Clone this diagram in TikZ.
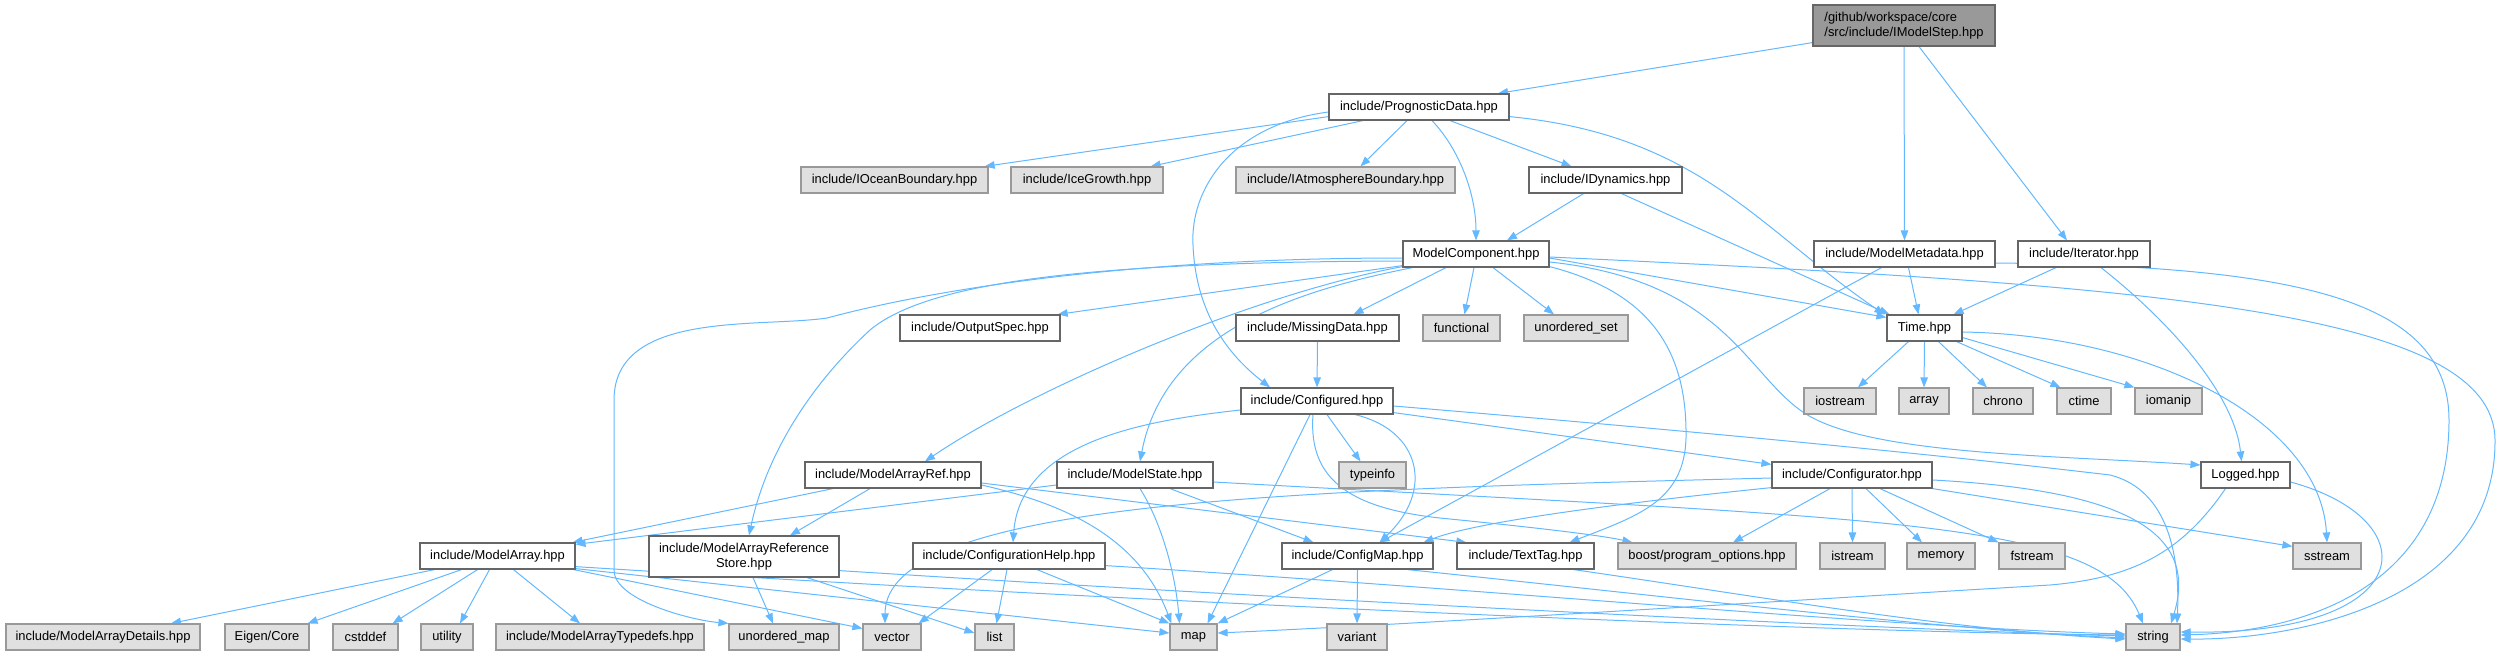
\documentclass[tikz,border=0pt]{standalone}
\usepackage{fontspec}
\setmainfont{Liberation Sans}
\usetikzlibrary{arrows.meta}
\definecolor{eb}{HTML}{63B8FF}
\definecolor{cdark}{HTML}{666666}
\definecolor{cgrey}{HTML}{999999}
\definecolor{cext}{HTML}{E0E0E0}
\pgfdeclarelayer{bg}
\pgfsetlayers{bg,main}
\tikzset{
  box/.style={draw=cdark, line width=1.2pt, fill=white, inner sep=0pt, text=black,
    font=\fontsize{12.9}{14.5}\selectfont, minimum height=26pt},
  ext/.style={box, draw=cgrey, fill=cext},
  rootbox/.style={box, draw=cdark, fill=cgrey, align=left},
  e/.style={draw=eb, line width=1pt, -{Triangle[length=10pt,width=7.5pt]}}
}
\begin{document}
\begin{tikzpicture}[x=1pt,y=-1pt]
\useasboundingbox (0,0) rectangle (2506,656);
% nodes
\node[rootbox, minimum width=182pt, minimum height=41pt] (root) at (1904,25.5) {/github/workspace/core\\/src/include/IModelStep.hpp};
\node[box, minimum width=180pt] (PD) at (1419,107) {include/PrognosticData.hpp};
\node[ext, minimum width=187pt] (IOB) at (894.5,180) {include/IOceanBoundary.hpp};
\node[ext, minimum width=152pt] (IG) at (1087,180) {include/IceGrowth.hpp};
\node[ext, minimum width=219pt] (IAB) at (1345.5,180) {include/IAtmosphereBoundary.hpp};
\node[box, minimum width=153pt] (IDyn) at (1605.5,180) {include/IDynamics.hpp};
\node[box, minimum width=146pt] (MC) at (1476,254) {ModelComponent.hpp};
\node[box, minimum width=181pt] (MM) at (1904.5,254) {include/ModelMetadata.hpp};
\node[box, minimum width=132pt] (It) at (2084,254) {include/Iterator.hpp};
\node[box, minimum width=160pt] (OS) at (980,328) {include/OutputSpec.hpp};
\node[box, minimum width=163pt] (MD) at (1317.5,328) {include/MissingData.hpp};
\node[ext, minimum width=77pt] (func) at (1461.5,328) {functional};
\node[ext, minimum width=104pt] (uset) at (1576,328) {unordered\_set};
\node[box, minimum width=75pt] (Time) at (1924.5,328) {Time.hpp};
\node[ext, minimum width=72pt] (iostream) at (1840,401) {iostream};
\node[ext, minimum width=50pt] (array) at (1924,401) {array};
\node[ext, minimum width=60pt] (chrono) at (2003,401) {chrono};
\node[ext, minimum width=54pt] (ctime) at (2084,401) {ctime};
\node[ext, minimum width=67pt] (iomanip) at (2168.5,401) {iomanip};
\node[box, minimum width=152pt] (Cfgd) at (1317,401) {include/Configured.hpp};
\node[ext, minimum width=67pt] (typeinfo) at (1372.5,475) {typeinfo};
\node[box, minimum width=176pt] (MAR) at (893,475) {include/ModelArrayRef.hpp};
\node[box, minimum width=156pt] (MS) at (1135,475) {include/ModelState.hpp};
\node[box, minimum width=160pt] (Cfgr) at (1852,475) {include/Configurator.hpp};
\node[box, minimum width=89pt] (Logged) at (2245.5,475) {Logged.hpp};
\node[box, minimum width=155pt] (MA) at (497.5,556) {include/ModelArray.hpp};
\node[box, minimum width=190pt, minimum height=41pt, align=center] (MARS) at (744,556.5) {include/ModelArrayReference\\Store.hpp};
\node[box, minimum width=192pt] (CH) at (1009,556) {include/ConfigurationHelp.hpp};
\node[box, minimum width=151pt] (CM) at (1357.5,556) {include/ConfigMap.hpp};
\node[box, minimum width=137pt] (TT) at (1525.5,556) {include/TextTag.hpp};
\node[ext, minimum width=178pt] (boost) at (1707,556) {boost/program\_options.hpp};
\node[ext, minimum width=65pt] (istream) at (1852.5,556) {istream};
\node[ext, minimum width=68pt] (memory) at (1941,556) {memory};
\node[ext, minimum width=66pt] (fstream) at (2032,556) {fstream};
\node[ext, minimum width=68pt] (sstream) at (2327,556) {sstream};
\node[ext, minimum width=194pt] (MAD) at (103,637) {include/ModelArrayDetails.hpp};
\node[ext, minimum width=84pt] (Eigen) at (267,637) {Eigen/Core};
\node[ext, minimum width=65pt] (cstddef) at (365.5,637) {cstddef};
\node[ext, minimum width=52pt] (utility) at (447,637) {utility};
\node[ext, minimum width=208pt] (MAT) at (600,637) {include/ModelArrayTypedefs.hpp};
\node[ext, minimum width=110pt] (umap) at (784,637) {unordered\_map};
\node[ext, minimum width=58pt] (vector) at (892,637) {vector};
\node[ext, minimum width=39pt] (list) at (994.5,637) {list};
\node[ext, minimum width=47pt] (map) at (1193.5,637) {map};
\node[ext, minimum width=60pt] (variant) at (1357,637) {variant};
\node[ext, minimum width=54pt] (string) at (2153,637) {string};
% edges
\begin{pgfonlayer}{bg}
% root
\draw[e] ([yshift=4pt]root.south west) -- ([xshift=79pt]PD.north);
\draw[e] (root.south) -- (MM.north);
\draw[e] ([xshift=15pt]root.south) -- ([xshift=-17pt]It.north);
% PrognosticData
\draw[e] ([yshift=4pt]PD.south west) -- ([xshift=-4pt]IOB.north east);
\draw[e] ([xshift=-56pt]PD.south) -- ([xshift=-13pt]IG.north east);
\draw[e] ([xshift=-12pt]PD.south) -- ([xshift=15pt]IAB.north);
\draw[e] ([xshift=31pt]PD.south) -- ([xshift=-34pt]IDyn.north);
\draw[e] ([xshift=13pt]PD.south) .. controls (1460,150) and (1476,195) .. (MC.north);
\draw[e] ([yshift=4pt]PD.south east) .. controls (1700,135) and (1760,230) .. ([xshift=-2pt]Time.north west);
\draw[e] ([yshift=-5pt]PD.west) .. controls (1230,125) and (1190,190) .. (1193,245) .. controls (1196,320) and (1235,360) .. ([xshift=-47pt]Cfgd.north);
% IDynamics
\draw[e] ([xshift=-22pt]IDyn.south) -- ([xshift=31pt]MC.north);
\draw[e] ([xshift=16pt]IDyn.south) -- ([xshift=3pt]Time.north west);
% ModelComponent
\draw[e] ([yshift=2pt]MC.south west) -- ([xshift=-3pt]OS.north east);
\draw[e] ([xshift=-30pt]MC.south) -- ([xshift=36pt]MD.north);
\draw[e] ([xshift=-2pt]MC.south) -- ([xshift=3pt]func.north);
\draw[e] ([xshift=17pt]MC.south) -- ([xshift=-22pt]uset.north);
\draw[e] ([yshift=-4pt]MC.east) -- ([yshift=-3pt]Time.north west);
\draw[e] ([yshift=-3pt]MC.east) .. controls (2150,285) and (2494,310) .. (2495,440) .. controls (2496,600) and (2300,640) .. ([yshift=-2pt]string.east);
\draw[e] ([yshift=-8pt]MC.east) .. controls (1720,280) and (1745,370) .. (1800,410) .. controls (1860,455) and (2050,455) .. ([yshift=10pt]Logged.west);
\draw[e] ([yshift=1pt]MC.south east) .. controls (1640,290) and (1685,340) .. (1686,430) .. controls (1688,500) and (1640,515) .. ([xshift=44pt]TT.north);
\draw[e] ([yshift=-7pt]MC.west) .. controls (1100,262) and (930,280) .. (870,330) .. controls (805,390) and (765,460) .. ([xshift=5pt]MARS.north);
\draw[e] ([yshift=-4pt]MC.west) .. controls (1150,258) and (950,285) .. (827,318) .. controls (760,328) and (614,310) .. (614,400) -- (614,570) .. controls (614,600) and (690,620) .. (umap.north west);
\draw[e] ([yshift=1pt]MC.south west) .. controls (1250,295) and (1030,390) .. ([xshift=32pt]MAR.north);
\draw[e] ([xshift=10pt]MC.south west) .. controls (1300,290) and (1165,330) .. ([xshift=5pt]MS.north);
% ModelMetadata
\draw[e] ([xshift=4pt]MM.south) -- ([xshift=-6pt]Time.north);
\draw[e] ([xshift=-23pt]MM.south) -- ([xshift=22pt]CM.north);
\draw[e] ([yshift=-9pt]MM.east) .. controls (2300,266) and (2449,300) .. (2449,420) .. controls (2449,590) and (2300,632) .. ([yshift=2pt]string.east);
% Iterator
\draw[e] ([xshift=-28pt]It.south) -- ([xshift=-9pt]Time.north east);
\draw[e] ([xshift=17pt]It.south) .. controls (2180,330) and (2235,400) .. ([xshift=-4pt]Logged.north);
% Time
\draw[e] ([xshift=-16pt]Time.south) -- ([xshift=18pt]iostream.north);
\draw[e] (Time.south) -- (array.north);
\draw[e] ([xshift=14pt]Time.south) -- ([xshift=-16pt]chrono.north);
\draw[e] ([xshift=-6pt]Time.south east) -- ([xshift=4pt]ctime.north west);
\draw[e] ([yshift=4pt]Time.south east) -- (iomanip.north west);
\draw[e] ([yshift=-4pt]Time.east) .. controls (2150,335) and (2320,420) .. (sstream.north);
% MissingData
\draw[e] (MD.south) -- (Cfgd.north);
% Configured
\draw[e] ([xshift=10pt]Cfgd.south) -- ([xshift=-12pt]typeinfo.north);
\draw[e] ([xshift=38pt]Cfgd.south) .. controls (1420,430) and (1435,490) .. ([xshift=22pt]CM.north);
\draw[e] ([xshift=-4pt]Cfgd.south) .. controls (1308,480) and (1350,510) .. (1450,519) .. controls (1530,527) and (1600,535) .. ([xshift=15pt]boost.north west);
\draw[e] ([yshift=2pt]Cfgd.south east) -- ([yshift=-3pt]Cfgr.north west);
\draw[e] ([yshift=-5pt]Cfgd.east) .. controls (1800,440) and (2000,462) .. (2110,475) .. controls (2170,490) and (2180,560) .. ([xshift=24pt]string.north);
\draw[e] ([xshift=-7pt]Cfgd.south) -- ([xshift=14pt]map.north);
\draw[e] ([yshift=-9pt]Cfgd.west) .. controls (1150,420) and (1020,440) .. ([xshift=4pt]CH.north);
% ModelState
\draw[e] ([yshift=-10pt]MS.west) -- ([yshift=-2pt]MA.north east);
\draw[e] ([xshift=5pt]MS.south) .. controls (1160,520) and (1175,570) .. ([xshift=-14pt]map.north);
\draw[e] ([xshift=35pt]MS.south) -- ([xshift=-44pt]CM.north);
\draw[e] ([yshift=-7pt]MS.east) .. controls (1900,520) and (2100,520) .. ([xshift=-10pt]string.north);
% ModelArrayRef
\draw[e] ([xshift=-60pt]MAR.south) -- ([xshift=-3pt]MA.north east);
\draw[e] ([xshift=-23pt]MAR.south) -- ([xshift=46pt]MARS.north);
\draw[e] ([yshift=-10pt]MAR.east) .. controls (1070,505) and (1140,540) .. ([xshift=2pt]map.north west);
\draw[e] ([yshift=-8pt]MAR.east) -- ([xshift=10pt]TT.north west);
% ModelArrayReferenceStore
\draw[e] ([xshift=9pt]MARS.south) -- ([xshift=-11pt]umap.north);
\draw[e] ([xshift=63pt]MARS.south) -- ([yshift=4pt]list.west);
\draw[e] ([yshift=7pt]MARS.south east) .. controls (1300,600) and (1900,630) .. ([yshift=1pt]string.west);
% ModelArray
\draw[e] ([xshift=-63pt]MA.south) -- ([xshift=68pt]MAD.north);
\draw[e] ([xshift=-36pt]MA.south) -- ([xshift=-2pt]Eigen.north east);
\draw[e] ([xshift=-20pt]MA.south) -- ([xshift=-6pt]cstddef.north east);
\draw[e] ([xshift=-8pt]MA.south) -- ([xshift=13pt]utility.north);
\draw[e] ([xshift=16pt]MA.south) -- ([xshift=-20pt]MAT.north);
\draw[e] ([xshift=-2pt]MA.south east) -- ([yshift=-5pt]vector.north west);
\draw[e] ([yshift=1pt]MA.south east) -- ([yshift=4pt]map.west);
\draw[e] ([yshift=3pt]MA.south east) .. controls (1100,600) and (1800,632) .. ([yshift=2pt]string.west);
% ConfigurationHelp
\draw[e] ([xshift=-17pt]CH.south) -- ([xshift=-3pt]vector.north east);
\draw[e] ([xshift=-2pt]CH.south) -- ([xshift=2pt]list.north);
\draw[e] ([xshift=28pt]CH.south) -- (map.north west);
\draw[e] ([yshift=4pt]CH.south east) .. controls (1500,590) and (1900,628) .. ([yshift=3pt]string.west);
% ConfigMap
\draw[e] ([xshift=-25pt]CM.south) -- (map.north east);
\draw[e] (CM.south) -- (variant.north);
\draw[e] ([xshift=-26pt]CM.south east) .. controls (1700,600) and (1950,630) .. ([yshift=-1pt]string.west);
% TextTag
\draw[e] ([xshift=-21pt]TT.south east) .. controls (1750,595) and (1950,630) .. ([yshift=-2pt]string.west);
% Configurator
\draw[e] ([xshift=-22pt]Cfgr.south) -- ([xshift=26pt]boost.north);
\draw[e] (Cfgr.south) -- (istream.north);
\draw[e] ([xshift=14pt]Cfgr.south) -- ([xshift=-19pt]memory.north);
\draw[e] ([xshift=28pt]Cfgr.south) -- (fstream.north west);
\draw[e] (Cfgr.south east) -- ([yshift=-4pt]sstream.north west);
\draw[e] ([yshift=-5pt]Cfgr.east) .. controls (2120,490) and (2200,530) .. ([xshift=18pt]string.north);
\draw[e] ([yshift=1pt]Cfgr.south west) .. controls (1650,500) and (1480,520) .. ([xshift=-10pt]CM.north east);
\draw[e] ([yshift=-3pt]Cfgr.west) .. controls (1300,490) and (885,500) .. ([xshift=-7pt]vector.north);
% Logged
\draw[e] ([xshift=-20pt]Logged.south) .. controls (2180,555) and (2130,578) .. (2050,585) .. controls (1800,600) and (1400,625) .. ([yshift=4pt]map.east);
\draw[e] ([yshift=-7pt]Logged.east) .. controls (2430,520) and (2420,635) .. ([yshift=5pt]string.east);
\end{pgfonlayer}
\end{tikzpicture}
\end{document}
